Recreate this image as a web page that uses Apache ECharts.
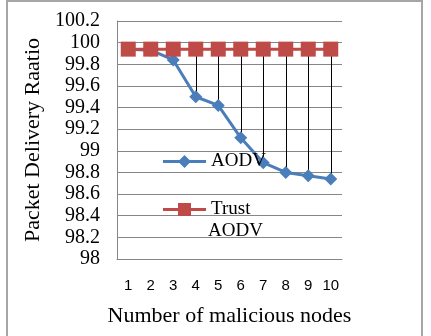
<!DOCTYPE html>
<html>
<head>
<meta charset="utf-8">
<script src="https://cdn.jsdelivr.net/npm/echarts@6/dist/echarts.min.js"></script>
<style>
  html, body { margin: 0; padding: 0; background: #fff; }
  #chart { width: 431px; height: 336px; }
</style>
</head>
<body>
<div id="chart"></div>
<script>
// data
const nodes = ["1", "2", "3", "4", "5", "6", "7", "8", "9", "10"];
const aodv = [99.94, 99.93, 99.84, 99.5, 99.42, 99.12, 98.89, 98.8, 98.77, 98.74];
const trustAodv = [99.94, 99.94, 99.94, 99.94, 99.94, 99.94, 99.94, 99.94, 99.94, 99.94];
const yTicks = ["98", "98.2", "98.4", "98.6", "98.8", "99", "99.2", "99.4", "99.6", "99.8", "100", "100.2"];

let chart = echarts.init(document.getElementById("chart"));

// high-low lines between the two series
let hiLow = nodes.map(function (n, i) {
  return [i, trustAodv[i], aodv[i]];
});

let serif = "Liberation Serif";

// legend icons: thick line with the marker in the middle
let diamondIcon = "path://M0,5L16.5,5L21.5,0L26.5,5L43,5L43,8L26.5,8L21.5,13L16.5,8L0,8Z";
let squareIcon = "path://M0,5L15,5L15,0L28,0L28,5L43,5L43,8L28,8L28,13L15,13L15,8L0,8Z";

let option = {
  animation: false,
  grid: { left: 117, right: 89, top: 21, bottom: 77 },
  legend: [
    {
      data: [{ name: "AODV", icon: diamondIcon }],
      left: 163,
      top: 152,
      padding: 0,
      itemWidth: 43,
      itemHeight: 13,
      itemGap: 2,
      textStyle: { fontFamily: serif, fontSize: 19, color: "#000" }
    },
    {
      data: [{ name: "Trust AODV", icon: squareIcon }],
      left: 163,
      top: 200,
      padding: 0,
      itemWidth: 43,
      itemHeight: 13,
      itemGap: 2,
      formatter: function () { return "Trust"; },
      textStyle: { fontFamily: serif, fontSize: 19, color: "#000" }
    }
  ],
  graphic: [
    {
      type: "rect",
      shape: { x: 7, y: 1, width: 415, height: 345 },
      style: { fill: "none", stroke: "#a6a6a6", lineWidth: 2 },
      silent: true
    },
    {
      type: "text",
      left: 208,
      top: 222,
      style: { text: "AODV", font: "19px 'Liberation Serif'", fill: "#000" }
    }
  ],
  xAxis: {
    type: "category",
    data: nodes,
    boundaryGap: true,
    name: "Number of malicious nodes",
    nameLocation: "middle",
    nameGap: 46,
    nameTextStyle: { fontFamily: serif, fontSize: 22, color: "#000" },
    axisLine: { lineStyle: { color: "#868686", width: 1 } },
    axisTick: { show: false },
    axisLabel: { margin: 19, fontFamily: "Liberation Sans", fontSize: 15, color: "#000" }
  },
  yAxis: {
    type: "value",
    min: 98,
    max: 100.2,
    interval: 0.2,
    name: "Packet Delivery Raatio",
    nameLocation: "middle",
    nameGap: 67,
    nameRotate: 90,
    nameTextStyle: { fontFamily: serif, fontSize: 22, color: "#000" },
    axisLine: { show: true, lineStyle: { color: "#868686", width: 1 } },
    axisTick: { show: false },
    axisLabel: {
      margin: 17,
      fontFamily: serif,
      fontSize: 20,
      color: "#000",
      formatter: function (v) {
        let i = Math.round((v - 98) / 0.2);
        return yTicks[i];
      }
    },
    splitLine: { lineStyle: { color: "#868686", width: 1 } }
  },
  series: [
    {
      type: "custom",
      name: "hilo",
      data: hiLow,
      z: 1,
      renderItem: function (params, api) {
        let p1 = api.coord([api.value(0), api.value(1)]);
        let p2 = api.coord([api.value(0), api.value(2)]);
        return {
          type: "line",
          shape: { x1: Math.round(p1[0]) + 0.5, y1: p1[1], x2: Math.round(p2[0]) + 0.5, y2: p2[1] },
          style: { stroke: "#000", lineWidth: 1 }
        };
      }
    },
    {
      name: "AODV",
      type: "line",
      data: aodv,
      z: 3,
      symbol: "diamond",
      symbolSize: 13,
      lineStyle: { color: "#4a7ebb", width: 3 },
      itemStyle: { color: "#4a7ebb" }
    },
    {
      name: "Trust AODV",
      type: "line",
      data: trustAodv,
      z: 4,
      symbol: "rect",
      symbolSize: 15,
      lineStyle: { color: "#be4b48", width: 3 },
      itemStyle: { color: "#be4b48" }
    }
  ]
};

chart.setOption(option);
</script>
</body>
</html>
